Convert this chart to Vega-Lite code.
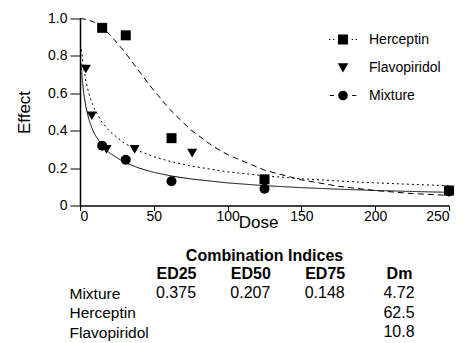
{
  "$schema": "https://vega.github.io/schema/vega-lite/v6.json",
  "padding": {"left": 15, "top": 11.5, "right": 5, "bottom": 1},
  "config": {
    "font": "Liberation Sans",
    "view": {"stroke": null},
    "axis": {"domainColor": "black", "tickColor": "black", "labelColor": "black", "titleColor": "black", "grid": false, "labelOverlap": false}
  },
  "datasets": {
    "curves": [
      {"series": "Herceptin", "dose": 0, "effect": 1.0},
      {"series": "Herceptin", "dose": 5, "effect": 0.995},
      {"series": "Herceptin", "dose": 10, "effect": 0.979},
      {"series": "Herceptin", "dose": 15, "effect": 0.952},
      {"series": "Herceptin", "dose": 20, "effect": 0.916},
      {"series": "Herceptin", "dose": 30, "effect": 0.824},
      {"series": "Herceptin", "dose": 40, "effect": 0.718},
      {"series": "Herceptin", "dose": 50, "effect": 0.615},
      {"series": "Herceptin", "dose": 62.5, "effect": 0.5},
      {"series": "Herceptin", "dose": 75, "effect": 0.405},
      {"series": "Herceptin", "dose": 90, "effect": 0.317},
      {"series": "Herceptin", "dose": 100, "effect": 0.272},
      {"series": "Herceptin", "dose": 125, "effect": 0.189},
      {"series": "Herceptin", "dose": 150, "effect": 0.137},
      {"series": "Herceptin", "dose": 175, "effect": 0.103},
      {"series": "Herceptin", "dose": 200, "effect": 0.08},
      {"series": "Herceptin", "dose": 225, "effect": 0.064},
      {"series": "Herceptin", "dose": 250, "effect": 0.054},
      {"series": "Flavopiridol", "dose": 1, "effect": 0.835},
      {"series": "Flavopiridol", "dose": 2, "effect": 0.759},
      {"series": "Flavopiridol", "dose": 4, "effect": 0.663},
      {"series": "Flavopiridol", "dose": 6, "effect": 0.599},
      {"series": "Flavopiridol", "dose": 8, "effect": 0.551},
      {"series": "Flavopiridol", "dose": 10, "effect": 0.513},
      {"series": "Flavopiridol", "dose": 15, "effect": 0.444},
      {"series": "Flavopiridol", "dose": 20, "effect": 0.397},
      {"series": "Flavopiridol", "dose": 30, "effect": 0.333},
      {"series": "Flavopiridol", "dose": 40, "effect": 0.291},
      {"series": "Flavopiridol", "dose": 50, "effect": 0.261},
      {"series": "Flavopiridol", "dose": 60, "effect": 0.238},
      {"series": "Flavopiridol", "dose": 75, "effect": 0.211},
      {"series": "Flavopiridol", "dose": 100, "effect": 0.18},
      {"series": "Flavopiridol", "dose": 125, "effect": 0.159},
      {"series": "Flavopiridol", "dose": 150, "effect": 0.143},
      {"series": "Flavopiridol", "dose": 175, "effect": 0.131},
      {"series": "Flavopiridol", "dose": 200, "effect": 0.121},
      {"series": "Flavopiridol", "dose": 225, "effect": 0.113},
      {"series": "Flavopiridol", "dose": 250, "effect": 0.106},
      {"series": "Mixture", "dose": 0.8, "effect": 0.76},
      {"series": "Mixture", "dose": 1.5, "effect": 0.678},
      {"series": "Mixture", "dose": 2.5, "effect": 0.602},
      {"series": "Mixture", "dose": 4, "effect": 0.527},
      {"series": "Mixture", "dose": 6, "effect": 0.461},
      {"series": "Mixture", "dose": 8, "effect": 0.415},
      {"series": "Mixture", "dose": 10, "effect": 0.38},
      {"series": "Mixture", "dose": 15, "effect": 0.32},
      {"series": "Mixture", "dose": 20, "effect": 0.281},
      {"series": "Mixture", "dose": 30, "effect": 0.231},
      {"series": "Mixture", "dose": 40, "effect": 0.2},
      {"series": "Mixture", "dose": 50, "effect": 0.177},
      {"series": "Mixture", "dose": 62.5, "effect": 0.157},
      {"series": "Mixture", "dose": 75, "effect": 0.142},
      {"series": "Mixture", "dose": 100, "effect": 0.121},
      {"series": "Mixture", "dose": 125, "effect": 0.106},
      {"series": "Mixture", "dose": 150, "effect": 0.0955},
      {"series": "Mixture", "dose": 175, "effect": 0.0872},
      {"series": "Mixture", "dose": 200, "effect": 0.0805},
      {"series": "Mixture", "dose": 225, "effect": 0.075},
      {"series": "Mixture", "dose": 250, "effect": 0.0704}
    ],
    "points": [
      {"series": "Mixture", "dose": 15, "effect": 0.32},
      {"series": "Mixture", "dose": 31, "effect": 0.245},
      {"series": "Mixture", "dose": 62, "effect": 0.13},
      {"series": "Mixture", "dose": 125, "effect": 0.09},
      {"series": "Mixture", "dose": 250, "effect": 0.075},
      {"series": "Flavopiridol", "dose": 4, "effect": 0.73},
      {"series": "Flavopiridol", "dose": 8, "effect": 0.48},
      {"series": "Flavopiridol", "dose": 18, "effect": 0.3},
      {"series": "Flavopiridol", "dose": 37, "effect": 0.3},
      {"series": "Flavopiridol", "dose": 76, "effect": 0.28},
      {"series": "Herceptin", "dose": 15, "effect": 0.95},
      {"series": "Herceptin", "dose": 31, "effect": 0.91},
      {"series": "Herceptin", "dose": 62, "effect": 0.36},
      {"series": "Herceptin", "dose": 125, "effect": 0.14},
      {"series": "Herceptin", "dose": 250, "effect": 0.08}
    ],
    "table": [
      {"row": "Mixture", "col": "ED25", "v": "0.375"},
      {"row": "Mixture", "col": "ED50", "v": "0.207"},
      {"row": "Mixture", "col": "ED75", "v": "0.148"},
      {"row": "Mixture", "col": "Dm", "v": "4.72"},
      {"row": "Herceptin", "col": "Dm", "v": "62.5"},
      {"row": "Flavopiridol", "col": "Dm", "v": "10.8"}
    ]
  },
  "vconcat": [
    {
      "width": 369,
      "height": 187,
      "layer": [
        {
          "data": {"name": "curves"},
          "mark": {"type": "line", "color": "black", "strokeWidth": 1},
          "encoding": {
            "x": {"field": "dose", "type": "quantitative", "scale": {"domain": [0, 250], "nice": false},
              "axis": {"values": [0, 50, 100, 150, 200, 250], "tickCount": 6, "labelOverlap": false, "title": "Dose", "titleFontSize": 17, "titleFontWeight": "normal", "labelFontSize": 14, "tickSize": 5, "labelPadding": -1, "titlePadding": -9.5, "titleX": 178, "domainWidth": 1.5}},
            "y": {"field": "effect", "type": "quantitative", "scale": {"domain": [0, 1]},
              "axis": {"values": [0, 0.2, 0.4, 0.6, 0.8, 1], "tickCount": 6, "labelOverlap": false, "labelExpr": "datum.value == 0 ? '0' : format(datum.value, '.1f')", "title": "Effect", "titleFontSize": 17, "titleFontWeight": "normal", "labelFontSize": 14, "tickSize": 10, "labelPadding": 3, "titlePadding": 14, "domainWidth": 1.5}},
            "detail": {"field": "series"},
            "strokeDash": {"field": "series", "type": "nominal", "scale": {"domain": ["Herceptin", "Flavopiridol", "Mixture"], "range": [[6, 4], [2, 3], [1, 0]]}, "legend": null},
            "order": {"field": "dose"}
          }
        },
        {
          "data": {"name": "points"},
          "mark": {"type": "point", "filled": true, "color": "black", "opacity": 1, "size": 100},
          "encoding": {
            "x": {"field": "dose", "type": "quantitative"},
            "y": {"field": "effect", "type": "quantitative"},
            "shape": {"field": "series", "type": "nominal", "scale": {"domain": ["Herceptin", "Flavopiridol", "Mixture"], "range": ["square", "triangle-down", "circle"]}, "legend": null}
          }
        },
        {
          "data": {"name": "points"},
          "mark": {"type": "point", "filled": true, "color": "black", "opacity": 0, "size": 784},
          "encoding": {
            "x": {"field": "dose", "type": "quantitative"},
            "y": {"field": "effect", "type": "quantitative"},
            "shape": {"field": "series", "type": "nominal",
              "scale": {"domain": ["Herceptin", "Flavopiridol", "Mixture"],
                "range": [
                  "M-1,-0.04L-0.9,-0.04L-0.9,0.04L-1,0.04ZM-0.72,-0.04L-0.62,-0.04L-0.62,0.04L-0.72,0.04ZM0.62,-0.04L0.72,-0.04L0.72,0.04L0.62,0.04ZM0.9,-0.04L1,-0.04L1,0.04L0.9,0.04ZM-0.36,-0.36L0.36,-0.36L0.36,0.36L-0.36,0.36Z",
                  "M-0.38,-0.3L0.38,-0.3L0,0.36Z",
                  "M-0.95,-0.04L-0.65,-0.04L-0.65,0.04L-0.95,0.04ZM0.65,-0.04L0.95,-0.04L0.95,0.04L0.65,0.04ZM-0.34,0A0.34,0.34 0 1,0 0.34,0A0.34,0.34 0 1,0 -0.34,0Z"
                ]},
              "legend": {"orient": "none", "legendX": 249, "legendY": 7, "title": null, "symbolSize": 784, "labelFontSize": 14, "labelOffset": 12, "rowPadding": 7, "padding": 0, "symbolFillColor": "black", "symbolStrokeColor": "black", "symbolStrokeWidth": 0, "labelColor": "black",
                "encode": {"symbols": {"update": {"opacity": {"value": 1}, "fill": {"value": "black"}, "fillOpacity": {"value": 1}}}}}}
          }
        }
      ],
      "resolve": {"scale": {"shape": "independent"}, "legend": {"shape": "independent"}}
    },
    {
      "width": 369,
      "height": 52,
      "title": {"text": "Combination Indices", "fontSize": 16, "fontWeight": "bold", "anchor": "middle", "offset": 1, "color": "black"},
      "data": {"name": "table"},
      "mark": {"type": "text", "fontSize": 16, "color": "black"},
      "encoding": {
        "x": {"field": "col", "type": "nominal", "scale": {"type": "point", "domain": ["ED25", "ED50", "ED75", "Dm"], "range": [96, 319], "padding": 0},
          "axis": {"orient": "top", "title": null, "domain": false, "ticks": false, "tickSize": 0, "labelFontSize": 16, "labelFontWeight": "bold", "labelPadding": 2, "labelAngle": 0}},
        "y": {"field": "row", "type": "nominal", "scale": {"type": "point", "domain": ["Mixture", "Herceptin", "Flavopiridol"], "range": [10, 49], "padding": 0},
          "axis": {"title": null, "domain": false, "ticks": false, "tickSize": 0, "labelAlign": "left", "labelPadding": 11, "labelFontSize": 15.5}},
        "text": {"field": "v", "type": "nominal"}
      }
    }
  ],
  "spacing": 17.5,
  "resolve": {"legend": {"shape": "independent"}}
}
